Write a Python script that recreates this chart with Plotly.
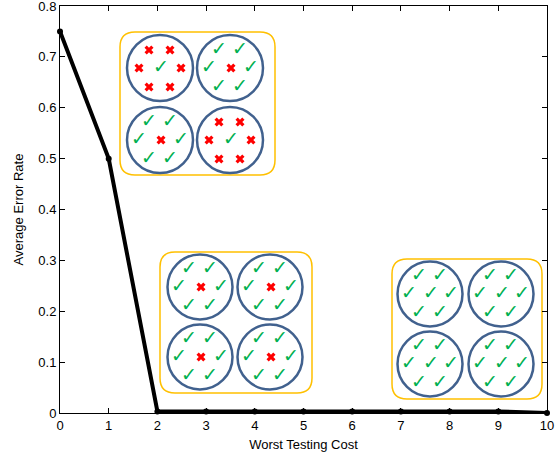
import plotly.graph_objects as go

# ---- data ----
cost = [0, 1, 2, 3, 4, 5, 6, 7, 8, 9, 10]
error_rate = [0.75, 0.5, 0.003, 0.003, 0.003, 0.003, 0.003, 0.003, 0.003, 0.003, 0.0]
x_ticks = [0, 1, 2, 3, 4, 5, 6, 7, 8, 9, 10]
y_ticks = [0, 0.1, 0.2, 0.3, 0.4, 0.5, 0.6, 0.7, 0.8]
y_tick_labels = ["0", "0.1", "0.2", "0.3", "0.4", "0.5", "0.6", "0.7", "0.8"]

# inset contents: each circle = 7 slots (top-l, top-r, mid-l, mid-c, mid-r, bot-l, bot-r)
# 'X' = wrong (red cross), 'V' = correct (green check)
inset1 = ["XXXVXXX", "VVVXVVV", "VVVXVVV", "XXXVXXX"]
inset2 = ["VVVXVVV", "VVVXVVV", "VVVXVVV", "VVVXVVV"]
inset3 = ["VVVVVVV", "VVVVVVV", "VVVVVVV", "VVVVVVV"]

# ---- layout of decorations (pixel space of plot area) ----
W, H = 557, 454
L, R, T, B = 60, 10, 6, 41
PX0, PX1 = L, W - R
PY0, PY1 = T, H - B

insets = [
    dict(box=(120, 32, 275, 175), centers=[(160, 68), (230, 68), (160, 140), (230, 140)], r=33, content=inset1),
    dict(box=(160, 252, 312, 393), centers=[(200, 287), (270, 287), (200, 357), (270, 357)], r=32.5, content=inset2),
    dict(box=(392, 259, 542, 399), centers=[(430, 294), (501, 294), (430, 364), (501, 364)], r=32.5, content=inset3),
]
offsets = [(-11, -18), (10, -18), (-21, 0), (1, 0), (21, 0), (-11, 19), (10, 19)]

fig = go.Figure()

fig.add_trace(go.Scatter(
    x=cost, y=error_rate, mode="lines+markers",
    line=dict(color="black", width=4),
    marker=dict(color="black", size=6),
    showlegend=False, cliponaxis=False,
))

shapes = []
cx_x, cx_y, ck_x, ck_y = [], [], [], []


def rounded(x0, y0, x1, y1, r):
    return (f"M {x0+r},{y0} L {x1-r},{y0} Q {x1},{y0} {x1},{y0+r} "
            f"L {x1},{y1-r} Q {x1},{y1} {x1-r},{y1} L {x0+r},{y1} "
            f"Q {x0},{y1} {x0},{y1-r} L {x0},{y0+r} Q {x0},{y0} {x0+r},{y0} Z")


for ins in insets:
    x0, y0, x1, y1 = ins["box"]
    shapes.append(dict(type="path", xref="x2", yref="y2", path=rounded(x0, y0, x1, y1, 15),
                       line=dict(color="#ffc000", width=1.5), fillcolor="white", layer="below"))
    for (cx, cy), cont in zip(ins["centers"], ins["content"]):
        r = ins["r"]
        shapes.append(dict(type="circle", xref="x2", yref="y2", x0=cx - r, x1=cx + r, y0=cy - r, y1=cy + r,
                           line=dict(color="#41618e", width=2.5), layer="below"))
        for (dx, dy), c in zip(offsets, cont):
            if c == "X":
                cx_x.append(cx + dx); cx_y.append(cy + dy)
            else:
                ck_x.append(cx + dx); ck_y.append(cy + dy)

fig.add_trace(go.Scatter(x=cx_x, y=cx_y, xaxis="x2", yaxis="y2", mode="markers",
                         marker=dict(symbol="x", size=8, color="#ff0000", line=dict(width=0)),
                         showlegend=False, hoverinfo="skip"))
fig.add_trace(go.Scatter(x=ck_x, y=ck_y, xaxis="x2", yaxis="y2", mode="text",
                         text=["✓"] * len(ck_x), textposition="middle center",
                         textfont=dict(family="DejaVu Sans", size=19, color="#00b050"),
                         showlegend=False, hoverinfo="skip"))

axis_common = dict(showline=True, linecolor="black", linewidth=1, mirror="ticks",
                   ticks="inside", ticklen=5, tickcolor="black", showgrid=False, zeroline=False,
                   automargin=False, ticklabeloverflow="allow",
                   tickfont=dict(family="Liberation Sans, Arial", size=13, color="black"))

fig.update_layout(
    width=W, height=H,
    margin=dict(l=L, r=R, t=T, b=B, pad=0, autoexpand=False),
    paper_bgcolor="white", plot_bgcolor="white",
    shapes=shapes,
    xaxis=dict(range=[0, 10], tickvals=x_ticks, ticktext=[str(v) for v in x_ticks],
               title=dict(text="Worst Testing Cost", standoff=8,
                          font=dict(family="Liberation Sans, Arial", size=13, color="black")),
               **axis_common),
    yaxis=dict(range=[0, 0.8], tickvals=y_ticks, ticktext=y_tick_labels,
               title=dict(text="Average Error Rate", standoff=11,
                          font=dict(family="Liberation Sans, Arial", size=13, color="black")),
               **axis_common),
    xaxis2=dict(overlaying="x", range=[PX0, PX1], visible=False, fixedrange=True),
    yaxis2=dict(overlaying="y", range=[PY1, PY0], visible=False, fixedrange=True),
)

fig.write_html("out.html", config={"displayModeBar": False},
               post_script="document.body.style.margin='0';document.body.style.padding='0';"
                           "document.body.style.overflow='hidden';")
